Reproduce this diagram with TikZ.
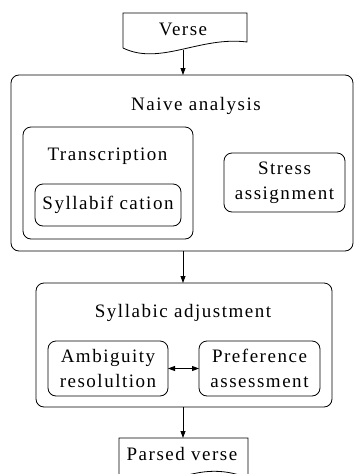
\documentclass[tikz,border=0pt]{standalone}
\usepackage{fontspec}
\setmainfont{Liberation Serif}[LetterSpace=8]
\usetikzlibrary{arrows.meta}
\tikzset{
  box/.style={draw, rounded corners=8pt, inner sep=0pt, outer sep=0pt, line width=0.8pt},
  lbl/.style={inner sep=0pt, outer sep=0pt, anchor=base, font=\fontsize{19}{25}\selectfont},
  boxtxt/.style={box, align=center, font=\fontsize{19}{25}\selectfont},
  arr/.style={line width=0.8pt, -{Triangle[length=7pt,width=5pt]}},
  darr/.style={line width=0.8pt, {Triangle[length=7pt,width=5pt]}-{Triangle[length=7pt,width=5pt]}},
  doc/.style={line width=0.8pt}
}
\begin{document}
\begin{tikzpicture}[x=1pt,y=-1pt]
\useasboundingbox (0,0) rectangle (354,474);
\clip (0,0) rectangle (354,474);
% Verse (document shape)
\draw[doc] (123,48) -- (123,13) -- (247,13) -- (247,42)
  .. controls (200,36) and (160,66) .. (123,48);
\coordinate (verseb) at (183,49.5);
\node[lbl] (versetxt) at (183,35) {Verse};
% Naive analysis
\node[box, minimum width=342pt, minimum height=176pt] (naive) at (182,163) {};
\node[lbl] (naivetxt) at (196,110) {Naive analysis};
\node[box, minimum width=170pt, minimum height=112pt] (trans) at (108,183) {};
\node[lbl] (transtxt) at (107.5,160) {Transcription};
\node[boxtxt, minimum width=146pt, minimum height=42pt] (syll) at (108,205) {Syllabif cation};
\node[boxtxt, minimum width=121pt, minimum height=59pt] (stress) at (284.5,182.5) {Stress\\assignment};
% Syllabic adjustment
\node[box, minimum width=296pt, minimum height=124pt] (adj) at (184,345) {};
\node[lbl] (adjtxt) at (183,317) {Syllabic adjustment};
\node[boxtxt, minimum width=120pt, minimum height=55pt] (amb) at (108,368.5) {Ambiguity\\resolultion};
\node[boxtxt, minimum width=121pt, minimum height=55pt] (pref) at (259.5,368.5) {Preference\\assessment};
% Parsed verse (document shape, cut off)
\draw[doc] (119,490) -- (119,438) -- (248,438) -- (248,478)
  .. controls (190,455) and (160,500) .. (119,482);
\coordinate (parsedt) at (183,438);
\node[lbl] (parsedtxt) at (182,460) {Parsed verse};
% connectors
\draw[arr] (verseb) -- (verseb |- naive.north);
\draw[arr] (naive.south -| verseb) -- (adj.north -| verseb);
\draw[arr] (adj.south -| verseb) -- (parsedt);
\draw[darr] (amb.east) -- (pref.west);
\end{tikzpicture}
\end{document}
